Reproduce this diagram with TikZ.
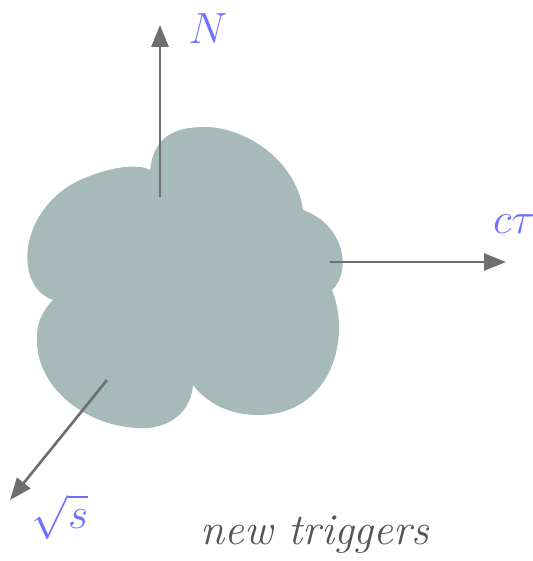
\documentclass[tikz,border=0pt]{standalone}
\usetikzlibrary{arrows.meta}
\definecolor{cloudfill}{HTML}{A6BABA}
\definecolor{axisgray}{HTML}{6E6E6E}
\definecolor{labelblue}{HTML}{6F6FFF}
\definecolor{capgray}{HTML}{555555}

\begin{document}
\begin{tikzpicture}[
  x=0.02cm, y=-0.02cm,
  >={Triangle[length=4.4mm, width=3.4mm]},
  axis/.style={->, line width=1.5pt, axisgray},
  axlabel/.style={font=\fontsize{24}{28}\selectfont, text=labelblue, inner sep=0pt},
]

% Frame
\useasboundingbox (0,0) rectangle (533,561);

% =============================================
% Cloud
% =============================================
\fill[cloudfill]
  (150,170) .. controls (154,136) and (175,127) .. (205,127)
  .. controls (245,127) and (296,160) .. (303,210)
  .. controls (345,225) and (352,272) .. (332,290)
  .. controls (352,340) and (330,415) .. (258,415)
  .. controls (228,415) and (206,402) .. (193,385)
  .. controls (190,418) and (162,430) .. (137,428)
  .. controls (82,425) and (35,385) .. (37,337)
  .. controls (37,320) and (45,308) .. (53,300)
  .. controls (10,285) and (20,200) .. (90,176)
  .. controls (115,166) and (140,164) .. (150,170) -- cycle;

% =============================================
% Axes
% =============================================
\coordinate (nbase) at (160,197);
\coordinate (ntip) at (160,25);
\coordinate (ctbase) at (330,262);
\coordinate (cttip) at (506,262);
\coordinate (sbase) at (107,380);
\coordinate (stip) at (10,500);

\draw[axis] (nbase) -- (ntip);
\draw[axis] (ctbase) -- (cttip);
\draw[axis] (sbase) -- (stip);

% Labels
\node[axlabel] (nlab) at (208,29) {$N$};
\node[axlabel] (ctlab) at (514,224) {$c\tau$};
\node[axlabel] (slab) at (60,517) {$\sqrt{s}$};

% Caption
\node[font=\fontsize{25}{30}\selectfont\itshape, text=capgray, inner sep=0pt]
  (caption) at (315,535) {new triggers};

\end{tikzpicture}
\end{document}
